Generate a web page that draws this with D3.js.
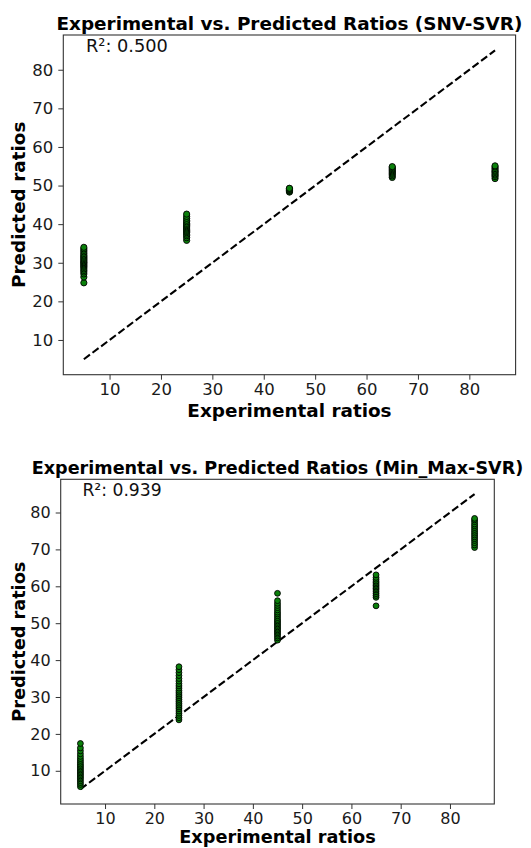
<!DOCTYPE html>
<html>
<head>
<meta charset="utf-8">
<script src="https://cdn.jsdelivr.net/npm/d3@7"></script>
<style>
  body { margin: 0; background: #fff; }
  text { font-family: "DejaVu Sans", sans-serif; }
</style>
</head>
<body>
<div id="chart"></div>
<script>
//experimental ratio groups and tick values
var ratios = [5, 25, 45, 65, 85];
var ticks = [10, 20, 30, 40, 50, 60, 70, 80];

//predicted values for SNV-SVR, one list per experimental ratio
var snv5 = [24.8, 26.3, 27.1, 27.6, 28.0, 28.4, 28.8, 29.1, 29.4, 29.7, 30.0, 30.2, 30.5, 30.8, 31.1, 31.4, 31.7, 32.0, 32.4, 32.8, 33.2, 33.6, 34.0];
var snv25 = [35.8, 36.5, 37.0, 37.4, 37.8, 38.1, 38.4, 38.7, 39.0, 39.3, 39.6, 39.9, 40.2, 40.6, 41.0, 41.5, 42.0, 42.6];
var snv45 = [48.3, 48.5, 48.7, 48.8, 49.0, 49.2, 49.3];
var snv65 = [52.1, 52.5, 52.9, 53.2, 53.5, 53.8, 54.1, 54.4, 54.7, 54.9];
var snv85 = [51.8, 52.3, 52.7, 53.0, 53.4, 53.7, 54.0, 54.4, 54.8, 55.1];

//predicted values for Min_Max-SVR
var mm5 = [5.7, 6.3, 6.8, 7.3, 7.8, 8.2, 8.6, 9.0, 9.4, 9.8, 10.2, 10.6, 11.0, 11.4, 11.8, 12.3, 12.8, 13.3, 13.9, 14.6, 15.4, 16.2, 17.4];
var mm25 = [23.8, 24.4, 25.0, 25.6, 26.2, 26.8, 27.3, 27.8, 28.3, 28.8, 29.3, 29.8, 30.3, 30.8, 31.3, 31.8, 32.4, 33.0, 33.6, 34.3, 35.0, 35.8, 36.6, 37.4, 38.2];
var mm45 = [45.4, 46.0, 46.5, 47.0, 47.4, 47.8, 48.2, 48.6, 49.0, 49.4, 49.8, 50.2, 50.6, 51.0, 51.5, 52.0, 52.5, 53.0, 53.6, 54.2, 54.8, 55.4, 56.1, 58.1];
var mm65 = [54.7, 57.0, 57.5, 58.0, 58.5, 59.0, 59.4, 59.8, 60.2, 60.6, 61.0, 61.4, 61.9, 62.4, 63.1];
var mm85 = [70.5, 71.2, 71.8, 72.4, 72.9, 73.4, 73.9, 74.4, 74.9, 75.4, 75.9, 76.4, 76.9, 77.5, 78.0, 78.4];

var svg = d3.select("#chart").append("svg")
    .attr("width", 531)
    .attr("height", 848);

//one scatter panel
function drawPanel(box, title, r2, groups, r) {
  var x = d3.scaleLinear().domain([1, 89]).range([box.left, box.right]);
  var y = d3.scaleLinear().domain([1, 89]).range([box.bottom, box.top]);

  var g = svg.append("g");

  //flatten points
  var pts = [];
  groups.forEach(function(vals, i) {
    vals.forEach(function(v) { pts.push({e: ratios[i], p: v}); });
  });

  //reference line y = x
  g.append("line")
    .attr("x1", x(5)).attr("y1", y(5))
    .attr("x2", x(85)).attr("y2", y(85))
    .attr("stroke", "#000")
    .attr("stroke-width", 2.1)
    .attr("stroke-dasharray", "7.6,3.2");

  g.selectAll("circle").data(pts).enter().append("circle")
    .attr("cx", function(d) { return x(d.e); })
    .attr("cy", function(d) { return y(d.p); })
    .attr("r", r)
    .attr("fill", "#0a800a")
    .attr("stroke", "#000")
    .attr("stroke-width", 0.9);

  //axes
  var xa = g.append("g")
    .attr("transform", "translate(0," + box.bottom + ")")
    .call(d3.axisBottom(x).tickValues(ticks).tickSize(5).tickPadding(4).tickSizeOuter(0));
  var ya = g.append("g")
    .attr("transform", "translate(" + box.left + ",0)")
    .call(d3.axisLeft(y).tickValues(ticks).tickSize(5).tickPadding(5).tickSizeOuter(0));
  [xa, ya].forEach(function(a) {
    a.select(".domain").remove();
    a.selectAll("line").attr("stroke", "#333");
    a.selectAll("text").attr("font-size", box.fs).attr("fill", "#1a1a1a")
      .attr("font-family", "DejaVu Sans");
  });

  //frame
  g.append("rect")
    .attr("x", box.left).attr("y", box.top)
    .attr("width", box.right - box.left).attr("height", box.bottom - box.top)
    .attr("fill", "none").attr("stroke", "#333").attr("stroke-width", 1.1);

  var cx = (box.left + box.right) / 2;
  g.append("text")
    .attr("x", cx).attr("y", box.top - 5)
    .attr("text-anchor", "middle")
    .attr("font-size", box.tfs).attr("font-weight", "bold")
    .text(title);

  g.append("text")
    .attr("x", box.left + 0.05 * (box.right - box.left))
    .attr("y", box.top + 0.05 * (box.bottom - box.top))
    .attr("font-size", box.rfs)
    .attr("fill", "#111")
    .text("R²: " + r2);

  g.append("text")
    .attr("x", cx).attr("y", box.bottom + box.xl)
    .attr("text-anchor", "middle")
    .attr("font-size", box.lfs).attr("font-weight", "bold")
    .text("Experimental ratios");

  g.append("text")
    .attr("transform", "translate(25," + (box.top + box.bottom) / 2 + ") rotate(-90)")
    .attr("text-anchor", "middle")
    .attr("font-size", box.lfs).attr("font-weight", "bold")
    .text("Predicted ratios");
}

drawPanel({left: 63.3, right: 515.6, top: 35, bottom: 374.7, fs: 16.5, tfs: 18.4, lfs: 18.4, rfs: 17.8, xl: 42},
  "Experimental vs. Predicted Ratios (SNV-SVR)", "0.500",
  [snv5, snv25, snv45, snv65, snv85], 3.1);

drawPanel({left: 60.7, right: 494.3, top: 479.3, bottom: 804, fs: 16, tfs: 17.6, lfs: 17.7, rfs: 17.2, xl: 39},
  "Experimental vs. Predicted Ratios (Min_Max-SVR)", "0.939",
  [mm5, mm25, mm45, mm65, mm85], 2.9);
</script>
</body>
</html>
